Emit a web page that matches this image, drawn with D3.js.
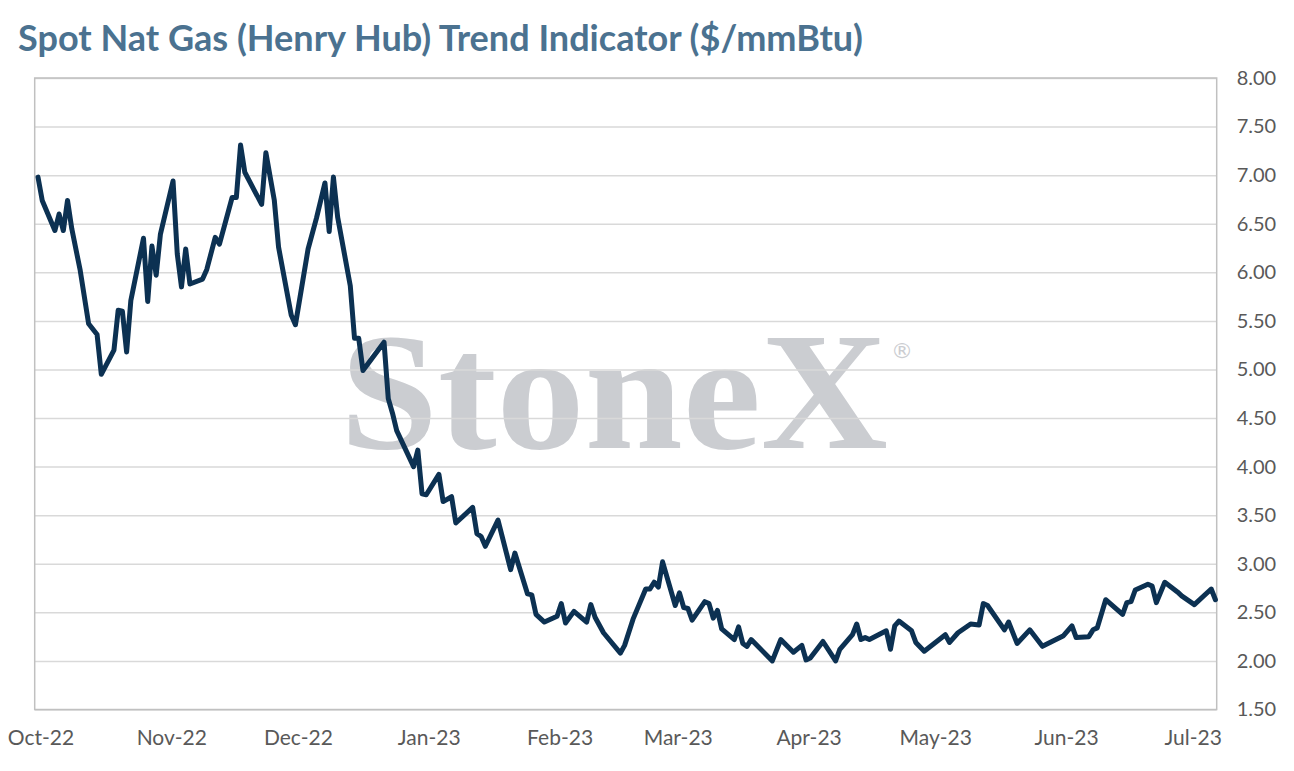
<!DOCTYPE html>
<html>
<head>
<meta charset="utf-8">
<script src="https://cdn.jsdelivr.net/npm/d3@7"></script>
<style>
  html, body { margin: 0; padding: 0; background: #fff; }
  svg { display: block; }
</style>
</head>
<body>
<svg id="chart" width="1294" height="771"></svg>
<script>
// ---- data ----
const titleText = "Spot Nat Gas (Henry Hub) Trend Indicator ($/mmBtu)";
const dates = [
  "2022-10-01","2022-10-02","2022-10-05","2022-10-06","2022-10-07","2022-10-08","2022-10-09",
  "2022-10-11","2022-10-13","2022-10-15","2022-10-16","2022-10-19","2022-10-20","2022-10-21",
  "2022-10-22","2022-10-23","2022-10-26","2022-10-27","2022-10-28","2022-10-29","2022-10-30",
  "2022-11-02","2022-11-03","2022-11-04","2022-11-05","2022-11-06","2022-11-09","2022-11-10",
  "2022-11-12","2022-11-13","2022-11-16","2022-11-17","2022-11-18","2022-11-19","2022-11-23",
  "2022-11-24","2022-11-26","2022-11-27","2022-11-30","2022-12-01","2022-12-04","2022-12-06",
  "2022-12-08","2022-12-09","2022-12-10","2022-12-11","2022-12-14","2022-12-15","2022-12-16",
  "2022-12-17","2022-12-22","2022-12-23","2022-12-24","2022-12-25","2022-12-29","2022-12-30",
  "2022-12-31","2023-01-01","2023-01-04","2023-01-05","2023-01-07","2023-01-08","2023-01-12",
  "2023-01-13","2023-01-14","2023-01-15","2023-01-18","2023-01-21","2023-01-22","2023-01-25",
  "2023-01-26","2023-01-27","2023-01-29","2023-02-01","2023-02-02","2023-02-03","2023-02-05",
  "2023-02-08","2023-02-09","2023-02-10","2023-02-12","2023-02-16","2023-02-17","2023-02-19",
  "2023-02-22","2023-02-23","2023-02-24","2023-02-25","2023-02-26","2023-03-01","2023-03-02",
  "2023-03-03","2023-03-04","2023-03-05","2023-03-08","2023-03-09","2023-03-10","2023-03-11",
  "2023-03-12","2023-03-15","2023-03-16","2023-03-17","2023-03-18","2023-03-19","2023-03-24",
  "2023-03-26","2023-03-29","2023-03-31","2023-04-01","2023-04-02","2023-04-05","2023-04-08",
  "2023-04-09","2023-04-12","2023-04-13","2023-04-14","2023-04-15","2023-04-16","2023-04-20",
  "2023-04-21","2023-04-22","2023-04-23","2023-04-26","2023-04-27","2023-04-29","2023-05-04",
  "2023-05-05","2023-05-07","2023-05-10","2023-05-12","2023-05-13","2023-05-14","2023-05-18",
  "2023-05-19","2023-05-21","2023-05-24","2023-05-27","2023-06-01","2023-06-03","2023-06-04",
  "2023-06-07","2023-06-08","2023-06-09","2023-06-11","2023-06-15","2023-06-16","2023-06-17",
  "2023-06-18","2023-06-21","2023-06-22","2023-06-23","2023-06-25","2023-06-28","2023-06-29",
  "2023-07-02","2023-07-06","2023-07-07"
];
const prices = [
  6.98,6.74,6.43,6.60,6.43,6.74,6.45,
  6.02,5.47,5.36,4.95,5.20,5.61,5.60,
  5.18,5.71,6.35,5.70,6.27,5.97,6.39,
  6.94,6.19,5.85,6.24,5.88,5.93,6.03,
  6.36,6.29,6.77,6.77,7.31,7.03,6.70,
  7.23,6.74,6.26,5.56,5.46,6.24,6.56,
  6.92,6.42,6.98,6.57,5.86,5.32,5.32,
  4.99,5.28,4.70,4.55,4.37,4.00,4.17,
  3.72,3.71,3.92,3.64,3.69,3.42,3.58,
  3.31,3.28,3.18,3.45,2.94,3.11,2.69,
  2.68,2.48,2.40,2.46,2.59,2.39,2.51,
  2.40,2.58,2.45,2.29,2.08,2.16,2.43,
  2.74,2.74,2.81,2.76,3.02,2.57,2.70,
  2.55,2.54,2.42,2.61,2.59,2.44,2.52,
  2.33,2.22,2.35,2.18,2.15,2.22,2.00,
  2.22,2.09,2.16,2.01,2.03,2.20,2.00,
  2.12,2.27,2.38,2.22,2.24,2.22,2.31,
  2.12,2.36,2.41,2.31,2.19,2.10,2.27,
  2.19,2.29,2.38,2.37,2.59,2.57,2.32,
  2.40,2.18,2.32,2.15,2.26,2.36,2.24,
  2.25,2.32,2.34,2.63,2.48,2.60,2.61,
  2.73,2.79,2.77,2.60,2.81,2.71,2.67,
  2.58,2.74,2.63
];
const yTicks = [1.5, 2.0, 2.5, 3.0, 3.5, 4.0, 4.5, 5.0, 5.5, 6.0, 6.5, 7.0, 7.5, 8.0];
const xTickMonths = ["2022-10-01","2022-11-01","2022-12-01","2023-01-01","2023-02-01","2023-03-01",
                     "2023-04-01","2023-05-01","2023-06-01","2023-07-01"];
const watermarkText = "StoneX";

// ---- layout ----
const svg = d3.select("#chart");
const plot = { left: 34.7, right: 1216.7, top: 78, bottom: 709.5 };
const parse = d3.utcParse("%Y-%m-%d");
const DAY = 864e5;
const t0 = Date.UTC(2022, 9, 1);

const x = d3.scaleUtc()
  .domain([new Date(t0 - 0.78 * DAY), new Date(t0 + 279.3 * DAY)])
  .range([plot.left, plot.right]);
const y = d3.scaleLinear().domain([1.5, 8]).range([plot.bottom, plot.top]);

const data = dates.map((d, i) => ({ date: parse(d), value: prices[i] }));

const labelFont = "Lato, 'Open Sans', sans-serif";

// title
const title = svg.append("text")
  .attr("x", 18).attr("y", 51)
  .attr("font-family", labelFont)
  .attr("font-weight", 700)
  .attr("font-size", 28)
  .attr("fill", "#4b7290")
  .text(titleText);
{
  const w = title.node().getComputedTextLength();
  title.attr("font-size", 28 * 845 / w);
}

// watermark (behind grid)
const wm = svg.append("g");
wm.append("text")
  .attr("x", 340).attr("y", 448)
  .attr("font-family", "'Liberation Serif', 'DejaVu Serif', serif")
  .attr("font-weight", 700)
  .attr("font-size", 168)
  .attr("fill", "#cbcdd1")
  .attr("textLength", 548)
  .attr("lengthAdjust", "spacingAndGlyphs")
  .text(watermarkText);
wm.append("text")
  .attr("x", 902).attr("y", 358)
  .attr("text-anchor", "middle")
  .attr("font-family", "'DejaVu Sans', sans-serif")
  .attr("font-size", 22)
  .attr("fill", "#cbcdd1")
  .text("\u00AE");

// gridlines
svg.append("g")
  .attr("transform", `translate(${plot.left},0)`)
  .call(d3.axisRight(y).tickValues(yTicks).tickSize(plot.right - plot.left).tickFormat(""))
  .call(g => g.select(".domain").remove())
  .call(g => g.selectAll("line").attr("stroke", "#d9d9d9").attr("stroke-width", 1.5));

// frame
svg.append("rect")
  .attr("x", plot.left).attr("y", plot.top)
  .attr("width", plot.right - plot.left).attr("height", plot.bottom - plot.top)
  .attr("fill", "none").attr("stroke", "#c0c0c0").attr("stroke-width", 1.5);

// y axis labels (right)
svg.append("g")
  .attr("transform", `translate(${plot.right},0)`)
  .call(d3.axisRight(y).tickValues(yTicks).tickSize(0).tickPadding(20).tickFormat(d3.format(".2f")))
  .call(g => g.select(".domain").remove())
  .call(g => g.selectAll("text")
    .attr("font-family", labelFont)
    .attr("font-size", 20)
    .attr("fill", "#595959"));

// x axis labels
const fmt = d3.utcFormat("%b-%y");
svg.append("g")
  .attr("transform", `translate(0,${plot.bottom})`)
  .call(d3.axisBottom(x).tickValues(xTickMonths.map(parse)).tickSize(0).tickPadding(21).tickFormat(fmt))
  .call(g => g.select(".domain").remove())
  .call(g => g.selectAll(".tick").attr("transform", d => `translate(${x(d) + 3},0)`))
  .call(g => g.selectAll("text")
    .attr("font-family", labelFont)
    .attr("font-size", 21)
    .attr("fill", "#595959"));

// line
const line = d3.line()
  .x(d => x(d.date))
  .y(d => y(d.value));
svg.append("path")
  .datum(data)
  .attr("d", line)
  .attr("fill", "none")
  .attr("stroke", "#0c3152")
  .attr("stroke-width", 5)
  .attr("stroke-linejoin", "round")
  .attr("stroke-linecap", "round");
</script>
</body>
</html>
